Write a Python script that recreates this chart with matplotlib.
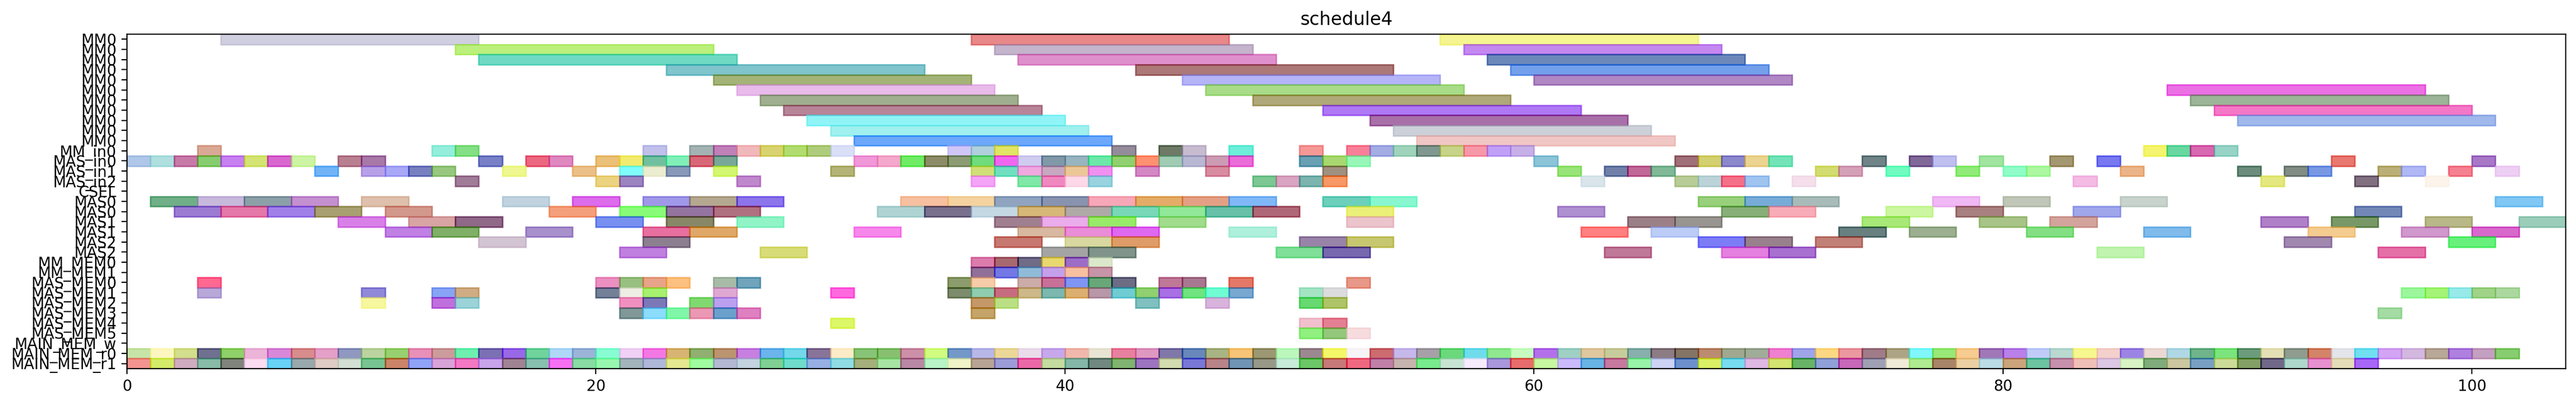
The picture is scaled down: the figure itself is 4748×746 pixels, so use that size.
import matplotlib
matplotlib.use("Agg")
import matplotlib.pyplot as plt
from matplotlib.colors import to_rgb

row_labels = ["MM0"] * 11 + [
    "MM_in0", "MAS_in0", "MAS_in1", "MAS_in2", "CSEL",
    "MAS0", "MAS0", "MAS1", "MAS1", "MAS2", "MAS2",
    "MM_MEM0", "MM_MEM1",
    "MAS_MEM0", "MAS_MEM1", "MAS_MEM2", "MAS_MEM3", "MAS_MEM4", "MAS_MEM5",
    "MAIN_MEM_w", "MAIN_MEM_r0", "MAIN_MEM_r1",
]

# task length per row
durations = [11, 11, 11, 11, 11, 11, 11, 11, 11, 11, 11,
             1, 1, 1, 1, 1,
             2, 2, 2, 2, 2, 2,
             1, 1, 1, 1, 1, 1, 1, 1, 1, 1, 1]

# task start times per row (top to bottom)
starts = [
    [4, 36, 56],
    [14, 37, 57],
    [15, 38, 58],
    [23, 43, 59],
    [25, 45, 60],
    [26, 46, 87],
    [27, 48, 88],
    [28, 51, 89],
    [29, 53, 90],
    [30, 54],
    [31, 55],
    # MM_in0
    [3, 13, 14, 22, 24, 25, 26, 27, 28, 29, 30, 35, 36, 37, 42, 44, 45, 47,
     50, 52, 53, 54, 55, 56, 57, 58, 59, 86, 87, 88, 89],
    # MAS_in0
    [0, 1, 2, 3, 4, 5, 6, 7, 9, 10, 15, 17, 18, 20, 21, 22, 23, 24, 25,
     31, 32, 33, 34, 35, 36, 37, 38, 39, 40, 41, 42, 43, 44, 45, 46, 47,
     50, 51, 52, 60, 66, 67, 68, 69, 70, 74, 76, 77, 79, 82, 84, 94, 100],
    # MAS_in1
    [8, 10, 11, 12, 13, 16, 19, 21, 22, 23, 25, 30, 36, 37, 38, 39, 40, 41,
     43, 46, 51, 61, 63, 64, 65, 72, 73, 75, 78, 80, 81, 85, 90, 92, 93,
     96, 97, 99, 101],
    # MAS_in2
    [14, 20, 21, 26, 36, 38, 39, 40, 41, 48, 49, 50, 51, 62, 66, 67, 68,
     69, 71, 83, 91, 95, 98],
    # CSEL
    [],
    # MAS0
    [1, 3, 5, 7, 10, 16, 19, 22, 24, 26, 33, 35, 37, 39, 41, 43, 45, 47,
     51, 53, 67, 69, 71, 77, 80, 85, 101],
    [2, 4, 6, 8, 11, 18, 21, 23, 25, 32, 34, 36, 38, 40, 42, 44, 46, 48,
     52, 61, 68, 70, 75, 78, 83, 95],
    # MAS1
    [9, 12, 14, 20, 23, 26, 37, 39, 41, 44, 52, 64, 66, 74, 79, 82, 91,
     94, 98, 102],
    [11, 13, 17, 22, 24, 31, 38, 40, 42, 47, 62, 65, 73, 76, 81, 86, 93,
     97, 100],
    # MAS2
    [15, 22, 37, 40, 42, 50, 52, 67, 69, 72, 92, 99],
    [21, 27, 39, 41, 49, 51, 63, 68, 70, 84, 96],
    # MM_MEM0, MM_MEM1
    [36, 37, 38, 39, 40, 41],
    [36, 37, 38, 39, 40, 41],
    # MAS_MEM0..5
    [3, 20, 21, 22, 23, 25, 26, 35, 36, 38, 39, 40, 41, 42, 44, 45, 47, 52],
    [3, 10, 13, 14, 20, 21, 22, 25, 30, 35, 36, 37, 38, 39, 40, 41, 42,
     43, 44, 45, 46, 47, 50, 51, 97, 98, 99, 100, 101],
    [10, 13, 14, 21, 22, 24, 25, 36, 37, 43, 46, 50, 51],
    [21, 22, 23, 24, 25, 26, 36, 96],
    [30, 50, 51],
    [50, 51, 52],
    # MAIN_MEM_w
    [],
    # MAIN_MEM_r0
    [0, 1, 2, 3, 4, 5, 6, 7, 8, 9, 10, 11, 12, 13, 14, 15, 16, 17, 18, 19,
     20, 21, 22, 23, 24, 25, 26, 27, 28, 29, 30, 31, 32, 33, 34, 35, 36,
     37, 38, 39, 40, 41, 42, 43, 44, 45, 46, 47, 48, 49, 50, 51, 52, 53,
     54, 55, 56, 57, 58, 59, 60, 61, 62, 63, 64, 65, 66, 67, 68, 69, 70,
     71, 72, 73, 74, 75, 76, 77, 78, 79, 80, 81, 82, 83, 84, 85, 86, 87,
     88, 89, 90, 91, 92, 93, 94, 95, 96, 97, 98, 99, 100, 101],
    # MAIN_MEM_r1
    [0, 1, 2, 3, 4, 5, 6, 7, 8, 9, 10, 11, 12, 13, 14, 15, 16, 17, 18, 19,
     20, 21, 22, 23, 24, 25, 26, 27, 28, 29, 30, 31, 32, 33, 34, 35, 36,
     37, 38, 39, 40, 41, 42, 43, 44, 45, 46, 47, 48, 49, 50, 51, 52, 53,
     54, 55, 56, 57, 58, 59, 60, 61, 62, 63, 64, 65, 66, 67, 68, 69, 70,
     71, 72, 73, 74, 75, 76, 77, 78, 79, 80, 81, 82, 83, 84, 85, 86, 87,
     88, 89, 90, 91, 92, 93, 94, 95],
]

# colours as they appear on the white background
colors = [
    ["#cfcfe0", "#e88888", "#f4f490"],
    ["#bcf07c", "#c4b4cc", "#c488f0"],
    ["#70dac4", "#e090cc", "#6c88bc"],
    ["#80c4cc", "#ac7878", "#74a0ec"],
    ["#a4b478", "#b4b4f8", "#b088c4"],
    ["#e8bcec", "#a8dc88", "#ec70e4"],
    ["#a0b090", "#b0a878", "#9cb498"],
    ["#b88498", "#b078f4", "#f478c8"],
    ["#90f4f8", "#a870a8", "#a0b8ec"],
    ["#a0f0f0", "#ccd0d8"],
    ["#6ca8fc", "#f0c8c4"],
    ["#d9aa95", "#95eedb", "#85e085", "#c0c0ec", "#a3b3b3", "#c080b8",
     "#f2b8bc", "#d8d470", "#b3dc70", "#b0cc7c", "#dae0f8", "#d0c8f8",
     "#b0d0dc", "#e2e466", "#948c9a", "#6e7a66", "#c8bcd0", "#6eeed8",
     "#f49896", "#f88098", "#a4ace4", "#a0d4bc", "#809890", "#c8d488",
     "#f898a8", "#c0a0f8", "#c8b0e8", "#f4f470", "#68d8a0", "#d868b0",
     "#98d4c8"],
    ["#b0c8e8", "#b0e0e0", "#c87aa8", "#88cc70", "#c880f0", "#d4e474",
     "#d868d0", "#ccf4a4", "#b88090", "#a878a8", "#7880c8", "#ec6880",
     "#e088c0", "#ecc078", "#f2ec70", "#70c0a0", "#80f0b8", "#d86878",
     "#78a898", "#f098d8", "#f4a8cc", "#70ec60", "#8c8c68", "#8c9c74",
     "#70dc7c", "#f060f0", "#d0ccf0", "#8098a8", "#98b4c0", "#6ce8a8",
     "#90d070", "#ff9070", "#a0ccb4", "#b8b8d4", "#cc9cb4", "#ec6cd8",
     "#68a0b4", "#a8d870", "#98f8b8", "#8cc4d8", "#a07078", "#d4d070",
     "#8c88cc", "#ecd490", "#74e4b8", "#708488", "#806898", "#c0c0f0",
     "#a0e4a0", "#a49870", "#7878f0", "#e87870", "#a878c8"],
    ["#70b4f8", "#b8a0e8", "#a8a8f8", "#7880c0", "#98c880", "#eef890",
     "#ecc088", "#80fcfc", "#ecedd0", "#8898b8", "#d4f870", "#b4b478",
     "#d0e078", "#70e0c0", "#f0a8e0", "#c8a8c0", "#ecc898", "#f090f0",
     "#d488c4", "#d88ca0", "#a09080", "#98e478", "#7080a8", "#c06898",
     "#80b898", "#d4dc70", "#d4a0b8", "#70fcc0", "#90ec78", "#90fcc8",
     "#acf8a0", "#ecb488", "#6c8c7c", "#808c84", "#7898e4", "#bcb078",
     "#b0b8f4", "#f48090", "#eecff4"],
    ["#a07c98", "#ecd480", "#9c84c0", "#c088cc", "#f4a4f8", "#80e8a8",
     "#f088c0", "#fcd8e8", "#98d4e0", "#7cc894", "#d8a4c0", "#7cb4b0",
     "#f89860", "#dae6ec", "#b8cc98", "#bcd4d8", "#f47088", "#a0c4f0",
     "#f4e0ec", "#f4bce4", "#e4e880", "#807080", "#fcf4ec"],
    [],
    ["#70b088", "#c8b8dc", "#8ca0a8", "#c490d0", "#dec0ac", "#c0d4e0",
     "#dc6cec", "#a098e8", "#b4a890", "#8c74ec", "#f8c0a0", "#f4d4a0",
     "#90a4c0", "#8894b0", "#f8a8b8", "#e4ac68", "#e4a084", "#80b8f8",
     "#6cd0bc", "#88f8d0", "#98d07c", "#78acd8", "#a8bcb8", "#f0b8f4",
     "#c0c8b8", "#c8d4cc", "#80c8f4"],
    ["#9c7cd4", "#e478a8", "#a080e8", "#a8a070", "#d4988c", "#f4a07c",
     "#88fc78", "#9474a0", "#b07080", "#b0d4d4", "#78708c", "#c4d8e4",
     "#d8b878", "#b0aaa8", "#78d8b8", "#90e898", "#68c0a8", "#b06878",
     "#ecf078", "#b090d0", "#88b078", "#f8acb8", "#ccf8a0", "#a88080",
     "#a0a8ec", "#7488b8"],
    ["#d880e8", "#d8a4a4", "#906888", "#7890f0", "#888868", "#90f4c8",
     "#a08090", "#ecacec", "#98ec68", "#a0dc8c", "#ecc4cc", "#9c8088",
     "#989490", "#a8e878", "#a8c488", "#d4a49c", "#b080c8", "#789868",
     "#b8b888", "#9ccdbc"],
    ["#c080e4", "#80b068", "#a890cc", "#e870a0", "#e0a868", "#f888ec",
     "#d8b8a0", "#ec8cd8", "#e068f0", "#b0f0dc", "#ff8080", "#bcccf8",
     "#688080", "#9cb090", "#84e084", "#80bcec", "#f4cc90", "#d098cc",
     "#d868cc"],
    ["#d4c4d4", "#8c8090", "#c87870", "#d8d8a0", "#e09c68", "#9884a8",
     "#c8c870", "#7c7cf8", "#98808c", "#c08078", "#a088b0", "#68f07c"],
    ["#c080e0", "#d8dc78", "#a4a4a4", "#80948c", "#80e098", "#7868b0",
     "#c07898", "#e480e0", "#a870d0", "#c0f4b0", "#e470a8"],
    ["#dc7cac", "#a86870", "#706c88", "#e8d870", "#9c6cc8", "#dce8cc"],
    ["#907098", "#7478e4", "#90bcd8", "#c4a0ec", "#f8c0a0", "#c894a8"],
    ["#ff6890", "#ec90c0", "#98c080", "#e8a488", "#fcc080", "#a8bca8",
     "#70a4bc", "#8c9c6c", "#f8cca8", "#ccaca8", "#c87098", "#8094f4",
     "#68a878", "#6c6c84", "#c07898", "#a87890", "#e47868", "#e89888"],
    ["#b8a8d8", "#9088d8", "#88a4f4", "#d0ac84", "#748098", "#eeeee4",
     "#a8f070", "#e0a8d4", "#ff68e0", "#7c8c6c", "#90ccb0", "#c86c80",
     "#ccb888", "#7cb8b0", "#dcb070", "#b898a8", "#70ccd4", "#90d070",
     "#a870e4", "#70e480", "#70fcd4", "#78a8d0", "#a4e4c4", "#dcdce0",
     "#9cf89c", "#a4f478", "#98eaea", "#a0d488", "#acd8a0"],
    ["#f8f8a0", "#c070dc", "#9cd4d8", "#f090c0", "#7c78b8", "#80d870",
     "#bca0f0", "#c49868", "#bce084", "#80c0c0", "#d8b4dc", "#68d870",
     "#b0c468"],
    ["#809898", "#8cdcfc", "#80f8a8", "#ec98b4", "#6ca0cc", "#e080c0",
     "#c4a468", "#a4dca4"],
    ["#dcf868", "#f0c0cc", "#e48094"],
    ["#90f080", "#94c87c", "#f8dce0"],
    [],
    ["#c8e4a8", "#fcf8c0", "#d4e08c", "#707090", "#90d068", "#ecb4d8",
     "#d888d8", "#d88c8c", "#e4a0c8", "#9098c0", "#bcd4a0", "#98d070",
     "#e890b8", "#cc9c9c", "#6ef0b0", "#7c70b4", "#9868e8", "#70d49c",
     "#b0d8f8", "#9cb4d8", "#88fcd4", "#f0d0f4", "#f478e4",
     "#d8b474", "#90b070", "#bc9470", "#c880e0", "#6cb4ec", "#74d8ec",
     "#887498", "#fcecc8", "#88c478", "#88c070", "#cc90a8", "#d0fc80",
     "#7498c8", "#b8b8e8", "#ecd898", "#ecdcec", "#c8a8ec",
     "#f0b8ac", "#e8e4d4", "#e880a0", "#e098c0", "#8078a8", "#6888bc",
     "#a8b484", "#f8c478", "#9c9874", "#bcf8bc", "#9c8890", "#f4f868",
     "#f8f4f8", "#cc6c70", "#c8b8ec", "#a8a0a8", "#6cd87c", "#70dcec",
     "#90e890",
     "#c8fcc0", "#b470ec", "#a0d0c4", "#e0c8a0", "#c8cc9c", "#88b0ac",
     "#8c7c84", "#847460", "#bc8c70", "#a0a890", "#a0ac98", "#f080d0",
     "#a0a4e8", "#fcd884", "#ec98a0", "#a07c88", "#aca484", "#80f8fc",
     "#98e878", "#f8cc90", "#a078b8", "#b880e8", "#c0ccf8", "#b8d8d0",
     "#f8f890", "#f4d0cc", "#9c84e4", "#ecd8d4", "#b0d8e4", "#70b48c",
     "#7ce47c", "#6c9c7c", "#e4e0b4", "#909c90", "#d48468", "#e4e4ec",
     "#70e0f0",
     "#d4a4f4", "#d4b8e0", "#b8a898", "#b080e0", "#c4a0c0", "#88cc70"],
    ["#f49490", "#d4ec68", "#d0acc0", "#88bca8", "#80847c", "#fcdcf0",
     "#68d4f8", "#98a8ac", "#e0ccc4", "#d4e0d4", "#78c490", "#cc8468",
     "#90a4f8", "#d8a4d8", "#f478c4", "#c8a4ec", "#a08494", "#88c0b0",
     "#f870f4", "#88dca4", "#98f8b0", "#a4b4bc", "#b0b8d8",
     "#e4e890", "#a0fca0", "#b4b8d4", "#c4d4e0", "#80d094", "#70dccc",
     "#98b0e4", "#90dce4", "#a4b07c", "#a8e4a4", "#b888a4", "#b8f4c8",
     "#f0f4c8", "#b8a494", "#9c9cd8", "#ec68a8", "#c4dca0",
     "#84b8a8", "#708880", "#80b470", "#9c74c0", "#d4dcb0", "#7878d8",
     "#b88488", "#7094b4", "#989888", "#c8ecd8", "#6cc860", "#c87878",
     "#f06880", "#c080a8", "#c8b4b0", "#78ec8c", "#c8e4d4", "#f8ecfc",
     "#a898dc",
     "#e86c6c", "#c8f8a0", "#ccbcfc", "#68b4e4", "#c878a0", "#98f4a8",
     "#ccd4f4", "#6c90cc", "#dcf064", "#78dcf0", "#e0b8e4", "#d4e470",
     "#68b460", "#90a0d8", "#c868b8", "#a0a0b4", "#f0ecd8", "#b0ec90",
     "#a88468", "#ecd0a4", "#bcdce4", "#cca47c", "#6cc4a0", "#c890ac",
     "#f0c0b8", "#dcc8e4", "#d8f4c4", "#80ac7c", "#ccc8a0", "#78a0c4",
     "#ccdc98", "#84a060", "#706888", "#b0d8cc", "#e890d0", "#e4dcb8",
     "#a860f8"],
]

ALPHA = 0.6


def base_color(shown):
    # undo the alpha blend against white so the fill shows the read colour
    return tuple(min(1.0, max(0.0, 1 - (1 - v) / ALPHA)) for v in to_rgb(shown))


fig, ax = plt.subplots(figsize=(23.74, 3.73), dpi=200)
fig.subplots_adjust(left=0.0493, right=0.996, bottom=0.0898, top=0.9155)

for row, (xs, cs, dur) in enumerate(zip(starts, colors, durations)):
    if not xs:
        continue
    cols = [base_color(c) for c in cs]
    ax.barh([row] * len(xs), [dur] * len(xs), left=xs, height=1.0,
            color=cols, edgecolor=cols, alpha=ALPHA, linewidth=1.0)

ax.set_yticks(range(len(row_labels)))
ax.set_yticklabels(row_labels)
ax.margins(x=0, y=0)
ax.set_ylim(len(row_labels) - 0.5, -0.5)
ax.set_title("schedule4")

fig.savefig("out.png", dpi=200)
